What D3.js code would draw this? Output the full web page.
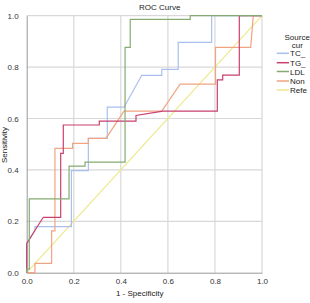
<!DOCTYPE html>
<html><head><meta charset="utf-8">
<script src="https://cdn.jsdelivr.net/npm/d3@7/dist/d3.min.js"></script>
<style>body{margin:0;background:#fff}svg{display:block;font-family:"Liberation Sans",Arial,sans-serif}</style>
</head><body>
<svg id="c" width="310" height="303"></svg>
<script>
const ticks = [0, 0.2, 0.4, 0.6, 0.8, 1.0];
// legend labels as visible in the (edge-clipped) reference
const legendTitle = ["Source", "cur"];
const seriesNames = ["TC_", "TG_", "LDL", "Non", "Refe"];
const seriesColors = ["#a9bfee", "#c8406e", "#86ab72", "#f0a482", "#eee98c"];

const tcX = [0,0,0.035,0.035,0.19,0.19,0.262,0.262,0.3425,0.3425,0.4135,0.489,0.574,0.574,0.644,0.644,0.786,0.786,1];
const tcY = [0,0.11,0.165,0.179,0.179,0.397,0.397,0.523,0.523,0.644,0.644,0.768,0.768,0.791,0.791,0.896,0.896,1,1];

const tgX = [0,0,0.0705,0.1445,0.1445,0.1555,0.1555,0.3085,0.3085,0.4645,0.4645,0.579,0.810,0.810,0.833,0.833,0.9035,0.9035,1];
const tgY = [0,0.114,0.2156,0.2156,0.4646,0.4646,0.5747,0.5747,0.590,0.590,0.612,0.629,0.629,0.750,0.750,0.769,0.769,1,1];

const ldlX = [0,0,0.011,0.011,0.18,0.18,0.248,0.248,0.418,0.418,0.44,0.44,0.695,0.695,1];
const ldlY = [0,0.014,0.014,0.287,0.287,0.415,0.415,0.43,0.43,0.877,0.877,0.986,0.986,1,1];

const nonX = [0,0.035,0.035,0.106,0.106,0.12,0.12,0.195,0.195,0.262,0.262,0.337,0.4135,0.574,0.652,0.8025,0.8025,0.952,0.963,1];
const nonY = [0,0,0.036,0.036,0.163,0.163,0.484,0.484,0.503,0.503,0.523,0.523,0.629,0.629,0.734,0.734,0.877,0.877,1,1];

const refX = [0,1];
const refY = [0,1];

const svg = d3.select("#c");
const x = d3.scaleLinear().domain([0,1]).range([26.7, 262]);
const y = d3.scaleLinear().domain([0,1]).range([272.7, 15.7]);

// grid
svg.append("g").selectAll("line").data(ticks.slice(1)).join("line")
  .attr("x1", d=>x(d)).attr("x2", d=>x(d)).attr("y1", y(0)).attr("y2", y(1))
  .attr("stroke", "#d8d8d8").attr("stroke-width", 1.2);
svg.append("g").selectAll("line").data(ticks.slice(1)).join("line")
  .attr("x1", x(0)).attr("x2", x(1)).attr("y1", d=>y(d)).attr("y2", d=>y(d))
  .attr("stroke", "#d8d8d8").attr("stroke-width", 1.2);

// axes
const fmt = d3.format(".1f");
const gx = svg.append("g").attr("transform", `translate(0,${y(0)})`)
  .call(d3.axisBottom(x).tickValues(ticks).tickFormat(fmt).tickSize(0).tickPadding(6));
const gy = svg.append("g").attr("transform", `translate(${x(0)},0)`)
  .call(d3.axisLeft(y).tickValues(ticks).tickFormat(fmt).tickSize(0).tickPadding(8));
[gx, gy].forEach(g => {
  g.select(".domain").attr("stroke", "#999").attr("stroke-width", 1);
  g.selectAll("text").attr("font-size", 8).attr("fill", "#333")
    .attr("font-family", '"Liberation Sans",Arial,sans-serif');
});

// curves
const line = d3.line().x(d=>x(d[0])).y(d=>y(d[1]));
const series = [[refX, refY, 4], [tcX, tcY, 0], [nonX, nonY, 3], [tgX, tgY, 1], [ldlX, ldlY, 2]];
series.forEach(([xs, ys, ci]) => {
  svg.append("path").datum(xs.map((v,i)=>[v, ys[i]]))
    .attr("d", line).attr("fill", "none")
    .attr("stroke", seriesColors[ci]).attr("stroke-width", 1.2);
});

// titles
svg.append("text").attr("x", 159.7).attr("y", 9.5).attr("text-anchor", "middle")
  .attr("font-size", 8).attr("fill", "#222").text("ROC Curve");
svg.append("text").attr("x", 139.7).attr("y", 295.5).attr("text-anchor", "middle")
  .attr("font-size", 8).attr("fill", "#222").text("1 - Specificity");
svg.append("text").attr("transform", "translate(6.8,145) rotate(-90)").attr("text-anchor", "middle")
  .attr("font-size", 8).attr("fill", "#222").text("Sensitivity");

// legend
svg.append("text").attr("x", 284.5).attr("y", 39.5).attr("font-size", 8).attr("fill", "#222").text(legendTitle[0]);
svg.append("text").attr("x", 291.7).attr("y", 48).attr("font-size", 8).attr("fill", "#222").text(legendTitle[1]);
const legY = [53.3, 62.7, 71.5, 81, 90];
seriesNames.forEach((n, i) => {
  svg.append("line").attr("x1", 276.7).attr("x2", 289).attr("y1", legY[i]).attr("y2", legY[i])
    .attr("stroke", seriesColors[i]).attr("stroke-width", 1.5);
  svg.append("text").attr("x", 290).attr("y", legY[i] + 3).attr("font-size", 8).attr("fill", "#222").text(n);
});
</script>
</body></html>
